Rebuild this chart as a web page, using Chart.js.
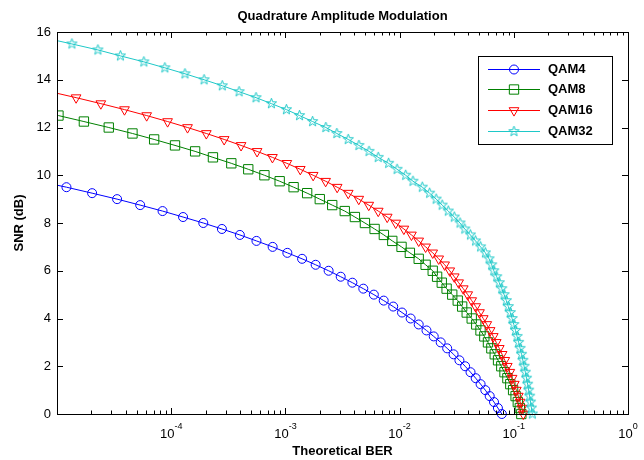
<!DOCTYPE html>
<html>
<head>
<meta charset="utf-8">
<title>Quadrature Amplitude Modulation</title>
<script src="https://cdn.jsdelivr.net/npm/chart.js@4.4.1/dist/chart.umd.min.js"></script>
<style>
    html, body { margin: 0; padding: 0; background: #fff; }
    #wrap { width: 644px; height: 460px; }
    canvas { display: block; }
</style>
</head>
<body>
<div id="wrap"><canvas id="qamChart" width="644" height="460"></canvas></div>
<script>
// SNR grid (dB), shared by all curves; each BER list starts at 0 dB
const snrDb = [0, 0.25, 0.5, 0.75, 1, 1.25, 1.5, 1.75, 2, 2.25, 2.5, 2.75, 3, 3.25, 3.5, 3.75,
    4, 4.25, 4.5, 4.75, 5, 5.25, 5.5, 5.75, 6, 6.25, 6.5, 6.75, 7, 7.25, 7.5, 7.75,
    8, 8.25, 8.5, 8.75, 9, 9.25, 9.5, 9.75, 10, 10.25, 10.5, 10.75, 11, 11.25, 11.5, 11.75,
    12, 12.25, 12.5, 12.75, 13, 13.25, 13.5, 13.75, 14, 14.25, 14.5, 14.75, 15, 15.25, 15.5, 15.75];

const berQam4 = [0.0786, 0.0726, 0.0671, 0.0615, 0.0563, 0.0512, 0.0464, 0.0418, 0.0375, 0.0334,
    0.0297, 0.0261, 0.0229, 0.0199, 0.0172, 0.0147, 0.0125, 0.0105, 0.00879, 0.00726,
    0.00595, 0.00481, 0.00386, 0.00305, 0.00239, 0.00184, 0.00140, 0.00104, 7.73e-4, 5.58e-4,
    3.99e-4, 2.78e-4, 1.91e-4, 1.27e-4, 8.4e-5, 5.35e-5, 3.36e-5, 2.03e-5, 1.21e-5, 6.9e-6];

const berQam8 = [0.1164, 0.1129, 0.1084, 0.1037, 0.0986, 0.0932, 0.0879, 0.0829, 0.0777, 0.0728,
    0.0681, 0.0636, 0.0594, 0.0552, 0.0511, 0.0469, 0.0428, 0.0387, 0.0353, 0.0323,
    0.0289, 0.0258, 0.0234, 0.0213, 0.0195, 0.0169, 0.0147, 0.0123, 0.0104, 0.00863,
    0.00728, 0.00604, 0.00497, 0.00406, 0.00331, 0.00257, 0.00200, 0.00155, 0.00118, 8.91e-4,
    6.55e-4, 4.73e-4, 3.36e-4, 2.32e-4, 1.62e-4, 1.08e-4, 7.09e-5, 4.58e-5, 2.84e-5, 1.72e-5,
    1.03e-5, 6.2e-6];

const berQam16 = [0.1211, 0.1175, 0.1136, 0.1095, 0.1052, 0.1010, 0.0966, 0.0923, 0.0877, 0.0834,
    0.0790, 0.0746, 0.0702, 0.0661, 0.0620, 0.0580, 0.0540, 0.0501, 0.0464, 0.0428,
    0.0395, 0.0361, 0.0329, 0.0301, 0.0275, 0.0248, 0.0220, 0.0195, 0.0169, 0.0147,
    0.0127, 0.0109, 0.00925, 0.00779, 0.00650, 0.00537, 0.00439, 0.00355, 0.00284, 0.00225,
    0.00175, 0.00135, 0.00103, 7.7e-4, 5.65e-4, 4.09e-4, 2.91e-4, 2.03e-4, 1.39e-4, 9.3e-5,
    6.1e-5, 3.9e-5, 2.42e-5, 1.47e-5, 8.7e-6];

const berQam32 = [0.1453, 0.1427, 0.1401, 0.1376, 0.1349, 0.1321, 0.1292, 0.1262, 0.1231, 0.1200,
    0.1169, 0.1136, 0.1102, 0.1069, 0.1035, 0.1000, 0.0966, 0.0932, 0.0895, 0.0860,
    0.0822, 0.0785, 0.0746, 0.0709, 0.0668, 0.0641, 0.0607, 0.0564, 0.0512, 0.0462,
    0.0417, 0.0372, 0.0338, 0.0301, 0.0267, 0.0236, 0.0209, 0.0183, 0.0158, 0.0131,
    0.0113, 0.00951, 0.00801, 0.00650, 0.00540, 0.00440, 0.00355, 0.00282, 0.00226, 0.00173,
    0.00133, 0.00102, 7.54e-4, 5.53e-4, 3.93e-4, 2.80e-4, 1.94e-4, 1.32e-4, 8.8e-5, 5.76e-5,
    3.59e-5, 2.28e-5, 1.35e-5, 7.85e-6];

const seriesLabels = ['QAM4', 'QAM8', 'QAM16', 'QAM32'];
const xTickExponents = [-4, -3, -2, -1, 0];
const yTickValues = [0, 2, 4, 6, 8, 10, 12, 14, 16];

const chartTitle = 'Quadrature Amplitude Modulation';
const xTitle = 'Theoretical BER';
const yTitle = 'SNR (dB)';

// Look
const FONT = '"Liberation Sans", Arial, Helvetica, sans-serif';
const colors = ['#0000ff', '#008000', '#ff0000', '#1ec8c8'];

// pentagram marker (MATLAB 'p')
function makePentagram(color) {
    const c = document.createElement('canvas');
    c.width = 13;
    c.height = 13;
    const g = c.getContext('2d');
    g.strokeStyle = color;
    g.lineWidth = 1;
    g.beginPath();
    for (let i = 0; i < 10; i++) {
        const r = i % 2 ? 2.2 : 5.4;
        const ang = -Math.PI / 2 + i * Math.PI / 5;
        const px = 6.5 + r * Math.cos(ang);
        const py = 6.5 + r * Math.sin(ang);
        if (i === 0) g.moveTo(px, py); else g.lineTo(px, py);
    }
    g.closePath();
    g.stroke();
    return c;
}

const markers = [
    { pointStyle: 'circle', radius: 4.5, rotation: 0 },
    { pointStyle: 'rect', radius: 6.6, rotation: 0 },
    { pointStyle: 'triangle', radius: 5.6, rotation: 180 },
    { pointStyle: makePentagram(colors[3]), radius: 6, rotation: 0 }
];

const berSeries = [berQam4, berQam8, berQam16, berQam32];

const datasets = berSeries.map((ber, i) => ({
    label: seriesLabels[i],
    data: ber.map((b, k) => ({ x: b, y: snrDb[k] })),
    borderColor: colors[i],
    backgroundColor: 'rgba(0,0,0,0)',
    borderWidth: 1,
    pointStyle: markers[i].pointStyle,
    pointRadius: markers[i].radius,
    pointRotation: markers[i].rotation,
    pointBorderColor: colors[i],
    pointBackgroundColor: 'rgba(0,0,0,0)',
    pointBorderWidth: 1,
    showLine: true,
    tension: 0,
    order: 4 - i, // later series on top, as in MATLAB
    clip: { left: 0, top: 0, right: 0, bottom: 8 }
}));

// Axes box, inward ticks, log tick labels, titles
const matlabFrame = {
    id: 'matlabFrame',
    afterDraw(chart) {
        const { ctx, chartArea: a, scales: { x, y } } = chart;
        ctx.save();
        ctx.strokeStyle = '#000';
        ctx.lineWidth = 1;

        ctx.beginPath();
        // x ticks: decades plus minor ticks
        for (let e = -5; e <= 0; e++) {
            for (let m = 1; m <= 9; m++) {
                if (e === 0 && m > 1) break;
                const px = Math.round(x.getPixelForValue(m * Math.pow(10, e))) + 0.5;
                const len = m === 1 ? 6 : 3.5;
                ctx.moveTo(px, a.bottom);
                ctx.lineTo(px, a.bottom - len);
                ctx.moveTo(px, a.top);
                ctx.lineTo(px, a.top + len);
            }
        }
        // y ticks on both sides
        yTickValues.forEach(v => {
            const py = Math.round(y.getPixelForValue(v)) + 0.5;
            ctx.moveTo(a.left, py);
            ctx.lineTo(a.left + 6, py);
            ctx.moveTo(a.right, py);
            ctx.lineTo(a.right - 6, py);
        });
        ctx.stroke();

        ctx.strokeRect(a.left + 0.5, a.top + 0.5, a.right - a.left, a.bottom - a.top);

        // x tick labels 10^n
        ctx.fillStyle = '#000';
        ctx.textBaseline = 'alphabetic';
        ctx.textAlign = 'left';
        const baseFont = '13px ' + FONT;
        const supFont = '9px ' + FONT;
        xTickExponents.forEach(e => {
            const px = x.getPixelForValue(Math.pow(10, e));
            const exp = String(e);
            ctx.font = baseFont;
            const wBase = ctx.measureText('10').width;
            ctx.font = supFont;
            const wExp = ctx.measureText(exp).width;
            const start = px - (wBase + wExp) / 2;
            ctx.font = baseFont;
            ctx.fillText('10', start, a.bottom + 24);
            ctx.font = supFont;
            ctx.fillText(exp, start + wBase, a.bottom + 15);
        });

        // titles
        const cx = (a.left + a.right) / 2;
        ctx.font = 'bold 13px ' + FONT;
        ctx.textAlign = 'center';
        ctx.textBaseline = 'middle';
        ctx.fillText(chartTitle, cx, 16);
        ctx.fillText(xTitle, cx, 451);
        ctx.save();
        ctx.translate(19, (a.top + a.bottom) / 2);
        ctx.rotate(-Math.PI / 2);
        ctx.fillText(yTitle, 0, 0);
        ctx.restore();

        ctx.restore();
    }
};

// Legend box in the upper right of the axes
const legendBox = { left: 478, top: 56, width: 134, height: 88, rowTop: 68.5, rowGap: 20.8 };

const matlabLegend = {
    id: 'matlabLegend',
    afterDraw(chart) {
        const { ctx } = chart;
        const L = legendBox;
        ctx.save();
        ctx.fillStyle = '#fff';
        ctx.fillRect(L.left, L.top, L.width, L.height);
        ctx.strokeStyle = '#000';
        ctx.lineWidth = 1;
        ctx.strokeRect(L.left + 0.5, L.top + 0.5, L.width, L.height);

        chart.data.datasets.forEach((ds, i) => {
            const ry = Math.round(L.rowTop + i * L.rowGap) + 0.5;
            ctx.strokeStyle = ds.borderColor;
            ctx.lineWidth = 1;
            ctx.beginPath();
            ctx.moveTo(L.left + 10, ry);
            ctx.lineTo(L.left + 62, ry);
            ctx.stroke();

            ctx.fillStyle = 'rgba(0,0,0,0)';
            if (Chart.helpers && Chart.helpers.drawPoint) {
                Chart.helpers.drawPoint(ctx, {
                    pointStyle: ds.pointStyle,
                    radius: ds.pointRadius,
                    rotation: ds.pointRotation,
                    borderWidth: 1
                }, L.left + 36, ry);
            }

            ctx.fillStyle = '#000';
            ctx.font = 'bold 13px ' + FONT;
            ctx.textAlign = 'left';
            ctx.textBaseline = 'middle';
            ctx.fillText(ds.label, L.left + 70, ry);
        });
        ctx.restore();
    }
};

new Chart(document.getElementById('qamChart'), {
    type: 'scatter',
    data: { datasets },
    options: {
        responsive: false,
        animation: false,
        events: [],
        layout: { padding: { top: 32, right: 16, left: 0, bottom: 0 } },
        plugins: {
            legend: { display: false },
            title: { display: false },
            tooltip: { enabled: false }
        },
        scales: {
            x: {
                type: 'logarithmic',
                min: 1e-5,
                max: 1,
                ticks: { display: false },
                grid: { display: false, drawTicks: false },
                border: { display: false },
                afterFit: s => { s.height = 46; }
            },
            y: {
                type: 'linear',
                min: 0,
                max: 16,
                afterBuildTicks: s => { s.ticks = yTickValues.map(v => ({ value: v })); },
                ticks: {
                    color: '#000',
                    padding: 6,
                    font: { family: FONT, size: 13 }
                },
                grid: { display: false, drawTicks: false },
                border: { display: false },
                afterFit: s => { s.width = 57; }
            }
        }
    },
    plugins: [matlabFrame, matlabLegend]
});
</script>
</body>
</html>
